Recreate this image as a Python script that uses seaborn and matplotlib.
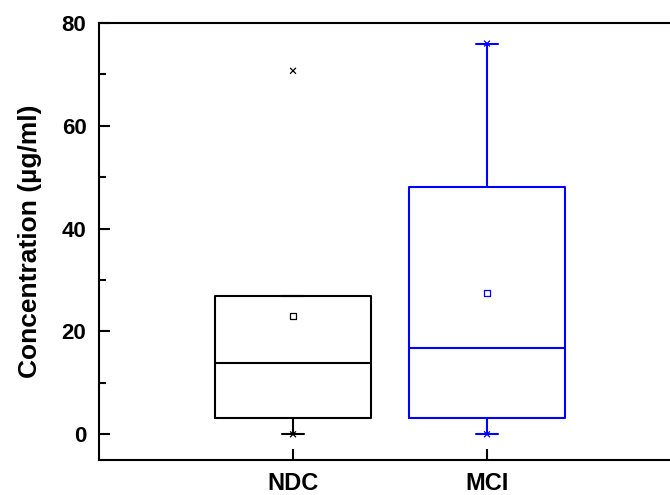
import matplotlib
matplotlib.use("Agg")
import matplotlib.pyplot as plt
import seaborn as sns
import pandas as pd
from matplotlib.ticker import MultipleLocator

# summary statistics
groups = ["NDC", "MCI"]
colors = ["#000000", "#0000FF"]
q1 = [3.2, 3.2]
median = [13.8, 16.8]
q3 = [26.9, 48.1]
whis_lo = [0.0, 0.0]
whis_hi = [26.9, 76.0]
means = [23.0, 27.5]
mins = [0.0, 0.0]
maxs = [70.7, 76.0]

sns.set_style("ticks")
plt.rcParams["font.family"] = ["Liberation Sans", "DejaVu Sans"]
plt.rcParams["font.weight"] = "bold"
for k in ["text.color", "axes.labelcolor", "xtick.color", "ytick.color"]:
    plt.rcParams[k] = "black"

fig = plt.figure(figsize=(6.7, 4.95), dpi=100)
ax = fig.add_axes([99 / 670, 35 / 495, 582 / 670, 437 / 495])

positions = list(range(1, len(groups) + 1))

# boxes (one call per group so each can take its own colour)
for i, g in enumerate(groups):
    stats = [dict(label=g, q1=q1[i], med=median[i], q3=q3[i],
                  whislo=whis_lo[i], whishi=whis_hi[i], fliers=[])]
    lp = dict(color=colors[i], linewidth=1.5)
    ax.bxp(stats, positions=[positions[i]], widths=0.8, capwidths=0.11,
           showfliers=False, boxprops=lp, whiskerprops=lp, capprops=lp,
           medianprops=lp, manage_ticks=False)

# mean markers (open squares) and min/max markers
df_mean = pd.DataFrame({"x": positions, "y": means, "g": groups})
df_ext = pd.DataFrame({"x": positions * 2, "y": mins + maxs, "g": groups * 2})
pal = dict(zip(groups, colors))
sns.scatterplot(data=df_mean, x="x", y="y", hue="g", palette=pal, marker="s",
                s=14, linewidth=0.9, legend=False, ax=ax)
ax.collections[-1].set_facecolor("none")
ax.collections[-1].set_edgecolor([pal[g] for g in groups])
sns.scatterplot(data=df_ext, x="x", y="y", hue="g", palette=pal, marker="x",
                s=18, linewidth=0.9, legend=False, ax=ax)

ax.set_xlim(0, 3)
ax.set_ylim(-5, 80)
ax.set_xticks(positions)
ax.set_xticklabels(groups)
ax.yaxis.set_major_locator(MultipleLocator(20))
ax.yaxis.set_minor_locator(MultipleLocator(10))
ax.tick_params(axis="both", which="both", direction="in", width=1.5, color="black")
ax.tick_params(axis="both", which="major", length=8)
ax.tick_params(axis="y", which="minor", length=5)
ax.tick_params(axis="x", which="major", labelsize=17, pad=9)
ax.tick_params(axis="y", which="major", labelsize=16, pad=9)
for lab in ax.get_xticklabels() + ax.get_yticklabels():
    lab.set_fontweight("bold")
ax.set_xlabel("")
ax.set_ylabel("Concentration (µg/ml)", fontsize=19, fontweight="bold", labelpad=14)
for s in ax.spines.values():
    s.set_linewidth(1.5)
    s.set_color("black")

fig.savefig("out.png", dpi=100)
